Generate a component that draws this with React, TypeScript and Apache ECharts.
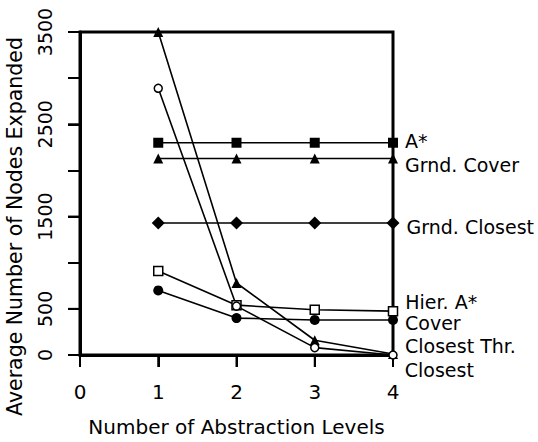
import React, { useEffect, useRef } from "react";
import * as echarts from "echarts";

const levels = [1, 2, 3, 4];
const aStar = [2300, 2300, 2300, 2300];
const grndCover = [2130, 2130, 2130, 2130];
const grndClosest = [1430, 1430, 1430, 1430];
const hierAStar = [910, 540, 490, 475];
const cover = [700, 400, 380, 380];
const closestThr = [3500, 780, 160, 10];
const closest = [2890, 530, 80, 0];

const yLabelValues = [0, 500, 1500, 2500, 3500];
const xTickValues = [0, 1, 2, 3, 4];

const FONT = "DejaVu Sans";

type S = {
  name: string;
  values: number[];
  symbol: string;
  size: number;
  empty?: boolean;
  dy: number;
};

const seriesDefs: S[] = [
  { name: "A*", values: aStar, symbol: "rect", size: 10, dy: -2 },
  { name: "Grnd. Cover", values: grndCover, symbol: "triangle", size: 10, dy: 7 },
  { name: "Grnd. Closest", values: grndClosest, symbol: "diamond", size: 13, dy: 4 },
  { name: "Hier. A*", values: hierAStar, symbol: "rect", size: 9, empty: true, dy: -9 },
  { name: "Cover", values: cover, symbol: "circle", size: 10, dy: 3 },
  { name: "Closest Thr.", values: closestThr, symbol: "triangle", size: 10, dy: -8 },
  { name: "Closest", values: closest, symbol: "circle", size: 8, empty: true, dy: 15 },
];

export default function App() {
  const ref = useRef<HTMLDivElement>(null);
  useEffect(() => {
    if (!ref.current) return;
    const chart = echarts.init(ref.current, null, { renderer: "svg" });
    const series = seriesDefs.map((s) => ({
      type: "line",
      name: s.name,
      clip: false,
      symbol: s.symbol,
      symbolSize: s.size,
      showAllSymbol: true,
      lineStyle: { color: "#000", width: 1.6 },
      itemStyle: {
        color: s.empty ? "#fff" : "#000",
        borderColor: "#000",
        borderWidth: s.empty ? 1.5 : 0,
      },
      data: s.values.map((v, i) => {
        const item: any = { value: [levels[i], v] };
        if (i === s.values.length - 1) {
          item.label = {
            show: true,
            position: "right",
            distance: 7,
            offset: [0, s.dy],
            formatter: s.name,
            color: "#000",
            fontFamily: FONT,
            fontSize: 19,
            lineHeight: 15,
          };
        }
        return item;
      }),
    }));
    chart.setOption({
      animation: false,
      backgroundColor: "#fff",
      grid: {
        left: 80,
        top: 32,
        right: 145,
        bottom: 87,
        outerBoundsMode: "none",
        containLabel: false,
        show: true,
        borderColor: "#000",
        borderWidth: 3,
        backgroundColor: "transparent",
      },
      xAxis: {
        type: "value",
        min: 0,
        max: 4,
        interval: 1,
        name: "Number of Abstraction Levels",
        nameLocation: "middle",
        nameGap: 62,
        nameTextStyle: { fontFamily: FONT, fontSize: 20, color: "#000" },
        axisLine: { show: true, lineStyle: { color: "#000", width: 3 } },
        axisTick: { show: true, length: 12, lineStyle: { color: "#000", width: 2 } },
        axisLabel: {
          margin: 27,
          fontFamily: FONT,
          fontSize: 20,
          color: "#000",
        },
        splitLine: { show: false },
      },
      yAxis: {
        type: "value",
        min: 0,
        max: 3500,
        interval: 500,
        name: "Average Number of Nodes Expanded",
        nameLocation: "middle",
        nameGap: 55,
        nameRotate: 90,
        nameTextStyle: {
          fontFamily: FONT,
          fontSize: 20.5,
          color: "#000",
          padding: [0, 66, 0, 0],
        },
        axisLine: { show: true, lineStyle: { color: "#000", width: 3 } },
        axisTick: {
          show: true,
          length: 12,
          lineStyle: { color: "#000", width: 2 },
        },
        axisLabel: {
          rotate: 90,
          margin: 26,
          fontFamily: FONT,
          fontSize: 19,
          color: "#000",
          formatter: (v: number) => (yLabelValues.includes(v) ? String(v) : ""),
        },
        splitLine: { show: false },
      },
      series,
    });

    // explicit tick marks, placed through the axes' own scales
    const y0 = chart.convertToPixel({ yAxisIndex: 0 }, 0) as number;
    const x0 = chart.convertToPixel({ xAxisIndex: 0 }, 0) as number;
    const tickStyle = { stroke: "#000", lineWidth: 2 };
    const graphics: any[] = [];
    xTickValues.forEach((v) => {
      const x = chart.convertToPixel({ xAxisIndex: 0 }, v) as number;
      graphics.push({
        type: "line",
        silent: true,
        shape: { x1: x, y1: y0, x2: x, y2: y0 + 12 },
        style: tickStyle,
      });
    });
    yLabelValues.forEach((v) => {
      const y = chart.convertToPixel({ yAxisIndex: 0 }, v) as number;
      graphics.push({
        type: "line",
        silent: true,
        shape: { x1: x0 - 12, y1: y, x2: x0, y2: y },
        style: tickStyle,
      });
    });
    chart.setOption({ graphic: graphics });

    return () => chart.dispose();
  }, []);
  return <div ref={ref} style={{ width: 538, height: 442, position: "absolute", left: 0, top: 0 }} />;
}
